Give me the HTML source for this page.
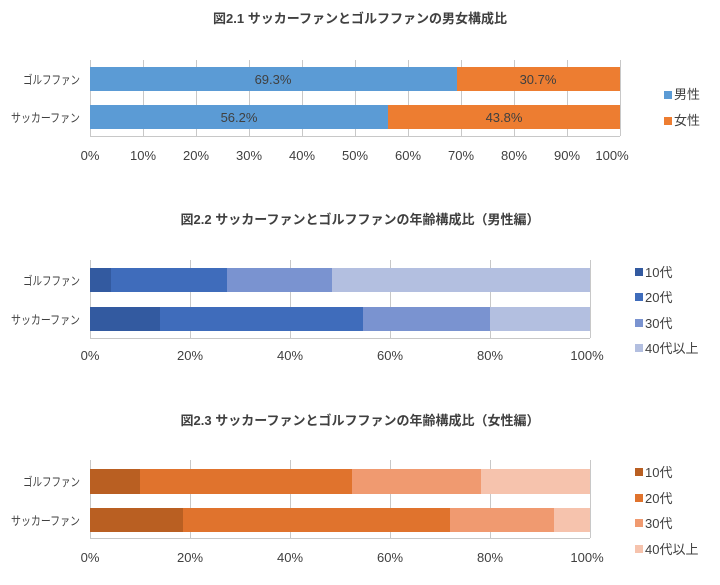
<!DOCTYPE html>
<html><head><meta charset="utf-8"><style>
body{margin:0;background:#fff;}
svg text{font-family:"Liberation Sans","Noto Sans CJK JP",sans-serif;fill:#404040;}
</style></head><body>
<svg width="720" height="580" viewBox="0 0 720 580" xmlns="http://www.w3.org/2000/svg">
<!-- Chart 1 -->
<text x="360" y="23" text-anchor="middle" font-size="13" font-weight="bold" fill="#333">図2.1  サッカーファンとゴルフファンの男女構成比</text>
<g stroke="#c8c8c8" stroke-width="1">
<line x1="90.5" y1="60" x2="90.5" y2="136"/><line x1="143.5" y1="60" x2="143.5" y2="136"/><line x1="196.5" y1="60" x2="196.5" y2="136"/><line x1="249.5" y1="60" x2="249.5" y2="136"/><line x1="302.5" y1="60" x2="302.5" y2="136"/><line x1="355.5" y1="60" x2="355.5" y2="136"/><line x1="408.5" y1="60" x2="408.5" y2="136"/><line x1="461.5" y1="60" x2="461.5" y2="136"/><line x1="514.5" y1="60" x2="514.5" y2="136"/><line x1="567.5" y1="60" x2="567.5" y2="136"/><line x1="620.5" y1="60" x2="620.5" y2="136"/>
<line x1="90" y1="136.5" x2="620" y2="136.5"/>
</g>
<rect x="90" y="67" width="367" height="24" fill="#5b9bd5"/><rect x="457" y="67" width="163" height="24" fill="#ed7d31"/>
<rect x="90" y="105" width="298" height="24" fill="#5b9bd5"/><rect x="388" y="105" width="232" height="24" fill="#ed7d31"/>
<text x="273" y="84" text-anchor="middle" font-size="13">69.3%</text><text x="538" y="84" text-anchor="middle" font-size="13">30.7%</text>
<text x="239" y="122" text-anchor="middle" font-size="13">56.2%</text><text x="504" y="122" text-anchor="middle" font-size="13">43.8%</text>
<text x="23" y="84" font-size="12" textLength="57" lengthAdjust="spacingAndGlyphs">ゴルフファン</text><text x="11" y="122" font-size="12" textLength="69" lengthAdjust="spacingAndGlyphs">サッカーファン</text>
<g font-size="13" text-anchor="middle">
<text x="90" y="160">0%</text><text x="143" y="160">10%</text><text x="196" y="160">20%</text><text x="249" y="160">30%</text><text x="302" y="160">40%</text><text x="355" y="160">50%</text><text x="408" y="160">60%</text><text x="461" y="160">70%</text><text x="514" y="160">80%</text><text x="567" y="160">90%</text><text x="612" y="160">100%</text>
</g>
<rect x="664" y="91" width="8" height="8" fill="#5b9bd5"/><text x="674" y="99" font-size="13">男性</text>
<rect x="664" y="117" width="8" height="8" fill="#ed7d31"/><text x="674" y="125" font-size="13">女性</text>

<!-- Chart 2 -->
<text x="360" y="224" text-anchor="middle" font-size="13" font-weight="bold" fill="#333">図2.2  サッカーファンとゴルフファンの年齢構成比（男性編）</text>
<g stroke="#c8c8c8" stroke-width="1">
<line x1="90.5" y1="260" x2="90.5" y2="338"/><line x1="190.5" y1="260" x2="190.5" y2="338"/><line x1="290.5" y1="260" x2="290.5" y2="338"/><line x1="390.5" y1="260" x2="390.5" y2="338"/><line x1="490.5" y1="260" x2="490.5" y2="338"/><line x1="590.5" y1="260" x2="590.5" y2="338"/>
<line x1="90" y1="338.5" x2="590" y2="338.5"/>
</g>
<rect x="90" y="268" width="21" height="24" fill="#335aa0"/><rect x="111" y="268" width="116" height="24" fill="#3f6cbb"/><rect x="227" y="268" width="105" height="24" fill="#7a93d0"/><rect x="332" y="268" width="258" height="24" fill="#b3bfe0"/>
<rect x="90" y="307" width="70" height="24" fill="#335aa0"/><rect x="160" y="307" width="203" height="24" fill="#3f6cbb"/><rect x="363" y="307" width="127" height="24" fill="#7a93d0"/><rect x="490" y="307" width="100" height="24" fill="#b3bfe0"/>
<text x="23" y="285" font-size="12" textLength="57" lengthAdjust="spacingAndGlyphs">ゴルフファン</text><text x="11" y="324" font-size="12" textLength="69" lengthAdjust="spacingAndGlyphs">サッカーファン</text>
<g font-size="13" text-anchor="middle">
<text x="90" y="360">0%</text><text x="190" y="360">20%</text><text x="290" y="360">40%</text><text x="390" y="360">60%</text><text x="490" y="360">80%</text><text x="587" y="360">100%</text>
</g>
<rect x="635" y="268" width="8" height="8" fill="#335aa0"/><text x="645" y="277" font-size="13">10代</text>
<rect x="635" y="293" width="8" height="8" fill="#3f6cbb"/><text x="645" y="302" font-size="13">20代</text>
<rect x="635" y="319" width="8" height="8" fill="#7a93d0"/><text x="645" y="328" font-size="13">30代</text>
<rect x="635" y="344" width="8" height="8" fill="#b3bfe0"/><text x="645" y="353" font-size="13">40代以上</text>

<!-- Chart 3 -->
<text x="360" y="425" text-anchor="middle" font-size="13" font-weight="bold" fill="#333">図2.3  サッカーファンとゴルフファンの年齢構成比（女性編）</text>
<g stroke="#c8c8c8" stroke-width="1">
<line x1="90.5" y1="460" x2="90.5" y2="538"/><line x1="190.5" y1="460" x2="190.5" y2="538"/><line x1="290.5" y1="460" x2="290.5" y2="538"/><line x1="390.5" y1="460" x2="390.5" y2="538"/><line x1="490.5" y1="460" x2="490.5" y2="538"/><line x1="590.5" y1="460" x2="590.5" y2="538"/>
<line x1="90" y1="538.5" x2="590" y2="538.5"/>
</g>
<rect x="90" y="469" width="50" height="25" fill="#b95f22"/><rect x="140" y="469" width="212" height="25" fill="#e0732d"/><rect x="352" y="469" width="129" height="25" fill="#f09a70"/><rect x="481" y="469" width="109" height="25" fill="#f6c3ad"/>
<rect x="90" y="508" width="93" height="24" fill="#b95f22"/><rect x="183" y="508" width="267" height="24" fill="#e0732d"/><rect x="450" y="508" width="104" height="24" fill="#f09a70"/><rect x="554" y="508" width="36" height="24" fill="#f6c3ad"/>
<text x="23" y="486" font-size="12" textLength="57" lengthAdjust="spacingAndGlyphs">ゴルフファン</text><text x="11" y="525" font-size="12" textLength="69" lengthAdjust="spacingAndGlyphs">サッカーファン</text>
<g font-size="13" text-anchor="middle">
<text x="90" y="562">0%</text><text x="190" y="562">20%</text><text x="290" y="562">40%</text><text x="390" y="562">60%</text><text x="490" y="562">80%</text><text x="587" y="562">100%</text>
</g>
<rect x="635" y="468" width="8" height="8" fill="#b95f22"/><text x="645" y="477" font-size="13">10代</text>
<rect x="635" y="494" width="8" height="8" fill="#e0732d"/><text x="645" y="503" font-size="13">20代</text>
<rect x="635" y="519" width="8" height="8" fill="#f09a70"/><text x="645" y="528" font-size="13">30代</text>
<rect x="635" y="545" width="8" height="8" fill="#f6c3ad"/><text x="645" y="554" font-size="13">40代以上</text>
</svg>
</body></html>
